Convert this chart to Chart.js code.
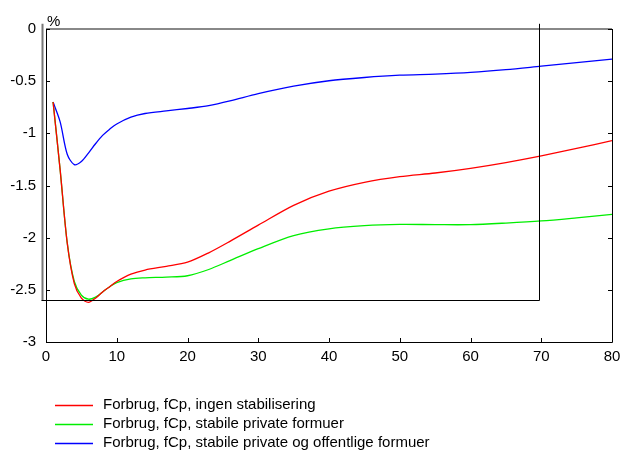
<!DOCTYPE html>
<html lang="da">
<head>
<meta charset="UTF-8">
<title>Forbrug, fCp</title>
<script src="https://cdn.jsdelivr.net/npm/chart.js"></script>
<style>
    html, body { margin: 0; padding: 0; background: #fff; }
    #wrap { width: 622px; height: 450px; position: relative; }
</style>
</head>
<body>
<div id="wrap"><canvas id="chart"></canvas></div>
<script>
// values (x = år, y = %)
const years  = [1, 2, 3, 4, 5, 6, 7, 8, 9, 10, 12, 14, 17, 20, 23, 26, 30, 35, 40, 45, 50, 55, 60, 65, 70, 75, 80];
const redY   = [-0.70, -1.35, -2.05, -2.44, -2.58, -2.62, -2.58, -2.52, -2.47, -2.42, -2.35, -2.31, -2.275, -2.235, -2.145, -2.035, -1.88, -1.69, -1.555, -1.47, -1.415, -1.38, -1.335, -1.28, -1.215, -1.145, -1.07];
const greenY = [-0.70, -1.35, -2.05, -2.42, -2.55, -2.59, -2.57, -2.52, -2.47, -2.43, -2.395, -2.385, -2.378, -2.365, -2.305, -2.22, -2.105, -1.98, -1.915, -1.885, -1.873, -1.875, -1.875, -1.86, -1.84, -1.81, -1.777];
const blueY  = [-0.70, -0.89, -1.20, -1.30, -1.27, -1.19, -1.10, -1.02, -0.96, -0.91, -0.845, -0.81, -0.785, -0.762, -0.735, -0.69, -0.62, -0.548, -0.496, -0.465, -0.443, -0.432, -0.416, -0.39, -0.356, -0.322, -0.288];

const labels = [
    'Forbrug, fCp, ingen stabilisering',
    'Forbrug, fCp, stabile private formuer',
    'Forbrug, fCp, stabile private og offentlige formuer'
];
const colors = ['#ff0000', '#00ee00', '#0000ff'];

const xTicks = [0, 10, 20, 30, 40, 50, 60, 70, 80];
const yTicks = [0, -0.5, -1, -1.5, -2, -2.5, -3];
const boxX = [0, 70];      // highlighted period
const boxY = [-2.6, 0.05];

const FONT = 'Arial, "Liberation Sans", sans-serif';

function pts(ys) { return years.map((x, i) => ({ x: x, y: ys[i] })); }

// frame, inward ticks, box, % label and legend
const decor = {
    id: 'decor',
    afterDatasetsDraw(chart) {
        const ctx = chart.ctx;
        const xs = chart.scales.x, ys = chart.scales.y;
        const a = chart.chartArea;
        ctx.save();
        // top edge (grey)
        ctx.strokeStyle = '#888';
        ctx.lineWidth = 2;
        ctx.beginPath();
        ctx.moveTo(a.left, a.top); ctx.lineTo(a.right, a.top);
        ctx.stroke();
        // left, bottom, right edges
        ctx.strokeStyle = '#000';
        ctx.lineWidth = 1;
        ctx.beginPath();
        ctx.moveTo(a.left + 0.5, a.top); ctx.lineTo(a.left + 0.5, a.bottom + 0.5);
        ctx.lineTo(a.right + 0.5, a.bottom + 0.5); ctx.lineTo(a.right + 0.5, a.top);
        ctx.stroke();
        // inward ticks
        ctx.beginPath();
        yTicks.forEach(v => {
            const y = Math.round(ys.getPixelForValue(v)) + 0.5;
            ctx.moveTo(a.left, y); ctx.lineTo(a.left + 4, y);
            ctx.moveTo(a.right, y); ctx.lineTo(a.right - 4, y);
        });
        xTicks.forEach(v => {
            const x = Math.round(xs.getPixelForValue(v)) + 0.5;
            ctx.moveTo(x, a.bottom); ctx.lineTo(x, a.bottom - 4);
        });
        ctx.stroke();
        // box
        const bl = xs.getPixelForValue(boxX[0]) - 3.5;
        const br = Math.round(xs.getPixelForValue(boxX[1])) - 1.5;
        const bb = Math.round(ys.getPixelForValue(boxY[0])) + 0.5;
        const bt = ys.getPixelForValue(boxY[1]);
        ctx.strokeStyle = '#777';
        ctx.lineWidth = 2;
        ctx.beginPath();
        ctx.moveTo(bl, bt); ctx.lineTo(bl, bb);
        ctx.stroke();
        ctx.strokeStyle = '#000';
        ctx.lineWidth = 1;
        ctx.beginPath();
        ctx.moveTo(bl - 1, bb); ctx.lineTo(br, bb); ctx.lineTo(br, bt);
        ctx.stroke();
        // unit label
        ctx.fillStyle = '#000';
        ctx.font = '15px ' + FONT;
        ctx.textBaseline = 'alphabetic';
        ctx.textAlign = 'left';
        ctx.fillText('%', a.left + 1, a.top - 3);
        // legend
        ctx.textBaseline = 'middle';
        labels.forEach((t, i) => {
            const y = 405 + i * 19;
            ctx.strokeStyle = colors[i];
            ctx.lineWidth = 1.3;
            ctx.beginPath();
            ctx.moveTo(55, y + 0.5); ctx.lineTo(93, y + 0.5);
            ctx.stroke();
            ctx.fillStyle = '#000';
            ctx.fillText(t, 103, y);
        });
        ctx.restore();
    }
};

new Chart(document.getElementById('chart'), {
    type: 'line',
    data: {
        datasets: [
            { label: labels[0], data: pts(redY), borderColor: colors[0] },
            { label: labels[1], data: pts(greenY), borderColor: colors[1] },
            { label: labels[2], data: pts(blueY), borderColor: colors[2] }
        ]
    },
    options: {
        responsive: true,
        maintainAspectRatio: false,
        animation: false,
        layout: { padding: { top: 29, right: 10, left: 0, bottom: 0 } },
        elements: {
            point: { radius: 0 },
            line: { borderWidth: 1.3, tension: 0.3 }
        },
        plugins: { legend: { display: false }, tooltip: { enabled: false } },
        scales: {
            x: {
                type: 'linear', min: 0, max: 80,
                afterBuildTicks: s => { s.ticks = xTicks.map(v => ({ value: v })); },
                afterFit: s => { s.height = 108; s.paddingRight = 0; s.paddingLeft = 0; },
                grid: { display: false, drawTicks: false },
                border: { display: false },
                ticks: { color: '#000', font: { family: FONT, size: 15 }, padding: 6, maxRotation: 0,
                         callback: v => String(v) }
            },
            y: {
                type: 'linear', min: -3, max: 0,
                afterBuildTicks: s => { s.ticks = yTicks.map(v => ({ value: v })); },
                afterFit: s => { s.width = 46; s.paddingTop = 0; s.paddingBottom = 0; },
                grid: { display: false, drawTicks: false },
                border: { display: false },
                ticks: { color: '#000', font: { family: FONT, size: 15 }, padding: 10,
                         callback: v => String(v) }
            }
        }
    },
    plugins: [decor]
});
</script>
</body>
</html>
